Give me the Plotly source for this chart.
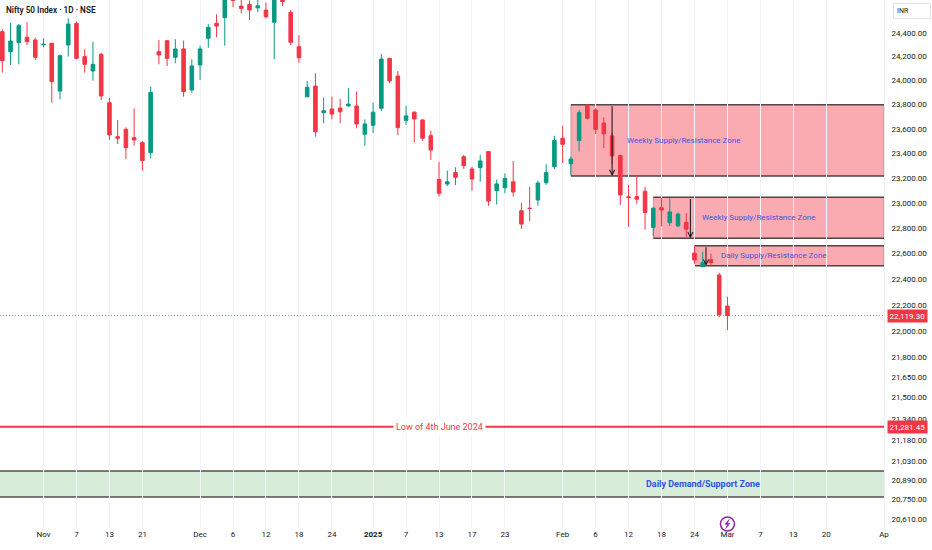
import numpy as np
import pandas as pd
import plotly.graph_objects as go

# NSE trading calendar (holidays removed, Saturday budget session added)
holidays = ["2024-11-15", "2024-11-20", "2024-12-25", "2025-02-26", "2025-03-14", "2025-03-31"]
extra_days = ["2025-02-01"]

# daily OHLC from 25 Oct 2024 to 3 Mar 2025
opens = [24411, 24242, 24318, 24364, 24341,  # Oct
         24300, 24313, 23913, 24298, 24482, 24200, 24080, 24220, 23816, 23537,
         23597, 23529, 23488, 23406, 24242, 24335, 24195, 24265, 23922,  # Nov
         24130, 24355, 24482, 24530, 24729, 24629, 24643, 24614, 24595, 24491,
         24754, 24575, 24284, 23865, 23954, 23734, 23764, 23772, 23790, 23789, 23557,  # Dec
         23630, 23770, 24186, 24038, 23670, 23738, 23674, 23545, 23190, 23153, 23245,
         23374, 23274, 23285, 23415, 23100, 23123, 23171, 22939, 22960, 23025, 23164, 23293,  # Jan
         23524, 23317, 23505, 23796, 23756, 23649, 23543, 23383, 23050, 23052, 23095,
         22807, 22963, 22844, 22818, 22847, 22605, 22497, 22553, 22433,  # Feb
         22192]
highs = [24431, 24487, 24476, 24491, 24360,
         24355, 24316, 24220, 24525, 24496, 24262, 24326, 24233, 23857, 23674,
         23614, 23770, 23502, 23949, 24341, 24340, 24347, 24335, 24178,
         24293, 24474, 24559, 24857, 24751, 24705, 24677, 24691, 24657, 24792,
         24782, 24595, 24383, 23997, 24061, 23860, 23867, 23847, 23937, 23908, 23679,
         23816, 24222, 24190, 24080, 23790, 23745, 23680, 23587, 23331, 23261, 23288,
         23388, 23293, 23388, 23420, 23188, 23239, 23339, 23002, 23131, 23180, 23313, 23544,
         23626, 23374, 23756, 23805, 23770, 23694, 23568, 23391, 23145, 23226, 23131,
         22965, 23039, 23039, 22925, 22920, 22665, 22616, 22600, 22450,
         22264]
lows = [24066, 24130, 24136, 24298, 24172,
        24279, 23816, 23844, 24200, 24178, 24066, 23999, 23839, 23510, 23477,
        23353, 23464, 23261, 23361, 24136, 24122, 24145, 23866, 23899,
        24005, 24275, 24364, 24293, 24620, 24567, 24510, 24576, 24525, 24178,
        24630, 24298, 24149, 23865, 23537, 23647, 23679, 23647, 23782, 23605, 23462,
        23567, 23748, 23978, 23551, 23634, 23492, 23505, 23348, 23052, 23137, 23145,
        23274, 23100, 23171, 22979, 22989, 23079, 23052, 22795, 22856, 22979, 23145, 23274,
        23323, 23226, 23415, 23679, 23557, 23443, 23316, 22986, 22812, 22994, 22789,
        22740, 22814, 22818, 22812, 22726, 22520, 22497, 22497, 22105,
        22008]
closes = [24166, 24332, 24462, 24326, 24195,
          24304, 23991, 24208, 24476, 24186, 24136, 24136, 23872, 23551, 23524,
          23447, 23510, 23342, 23902, 24214, 24186, 24265, 23908, 24122,
          24265, 24448, 24459, 24708, 24677, 24609, 24595, 24631, 24538, 24768,
          24668, 24321, 24191, 23944, 23577, 23750, 23722, 23741, 23805, 23641, 23641,
          23738, 24180, 23997, 23611, 23707, 23682, 23524, 23428, 23079, 23171, 23208,
          23301, 23193, 23339, 23016, 23154, 23198, 23089, 22833, 22957, 23161, 23245, 23505,
          23475, 23355, 23734, 23688, 23597, 23560, 23381, 23065, 23045, 23031, 22925,
          22960, 22945, 22930, 22913, 22793, 22550, 22528, 22530, 22125,
          22119.30]

tick_dates = ["2024-11-01", "2024-11-07", "2024-11-13", "2024-11-21", "2024-12-02", "2024-12-06",
              "2024-12-12", "2024-12-18", "2024-12-24", "2025-01-01", "2025-01-07", "2025-01-13",
              "2025-01-17", "2025-01-23", "2025-02-01", "2025-02-06", "2025-02-12", "2025-02-18",
              "2025-02-24", "2025-03-03", "2025-03-07", "2025-03-13", "2025-03-20", "2025-04-01"]
tick_text = ["Nov", "7", "13", "21", "Dec", "6", "12", "18", "24", "<b>2025</b>", "7", "13",
             "17", "23", "Feb", "6", "12", "18", "24", "Mar", "7", "13", "20", "Ap"]

price_ticks = [24400, 24200, 24000, 23800, 23600, 23400, 23200, 23000, 22800, 22600, 22400,
               22200, 22000, 21800, 21650, 21500, 21340, 21180, 21030, 20890, 20750, 20610]

last_price = 22119.30
june_low = 21281.45

zone_names = ["Weekly Supply/Resistance Zone", "Weekly Supply/Resistance Zone",
              "Daily Supply/Resistance Zone"]
zone_starts = ["2025-02-03", "2025-02-17", "2025-02-24"]
zone_tops = [23800, 23046, 22662]
zone_bottoms = [23218, 22721, 22505]
demand_top = 20956
demand_bottom = 20768

GREEN = "#089981"
RED = "#f23645"
TXT = "#131722"
PURPLE = "#8e24aa"

days = pd.bdate_range("2024-10-25", "2025-04-01")
days = days.drop(pd.to_datetime(holidays)).union(pd.to_datetime(extra_days))
idx = {d.strftime("%Y-%m-%d"): i for i, d in enumerate(days)}
x = list(range(len(opens)))

fig = go.Figure()
fig.add_trace(go.Candlestick(
    x=x, open=opens, high=highs, low=lows, close=closes,
    increasing=dict(line=dict(color=GREEN, width=1), fillcolor=GREEN),
    decreasing=dict(line=dict(color=RED, width=1), fillcolor=RED),
    hoverinfo="skip", whiskerwidth=0))

x_end = 107.0
border = "rgba(70,60,60,0.9)"

# supply zones
for start, top, bot in zip(zone_starts, zone_tops, zone_bottoms):
    x0 = idx[start]
    fig.add_shape(type="rect", x0=x0, x1=x_end, y0=bot, y1=top,
                  fillcolor="rgba(242,54,69,0.42)", line=dict(width=0.6, color="rgba(120,60,60,0.6)"),
                  layer="below")
    for yy in (top, bot):
        fig.add_shape(type="line", x0=x0, x1=x_end, y0=yy, y1=yy,
                      line=dict(color=border, width=1.5), layer="below")

label_x = [75.6, 84.7, 87.0]
for name, lx, top, bot in zip(zone_names, label_x, zone_tops, zone_bottoms):
    fig.add_annotation(x=lx, y=np.log10(np.sqrt(top * bot)), text=name, showarrow=False,
                       xanchor="left", font=dict(family="Roboto", size=8, color="#4155dd"))

# arrows inside zones
arrow_x = [idx["2025-02-10"], idx["2025-02-21"] + 0.5, idx["2025-02-25"] + 0.4]
for ax_, top, bot in zip(arrow_x, zone_tops, zone_bottoms):
    fig.add_annotation(x=ax_, y=np.log10(bot), ax=ax_, ay=np.log10(top), axref="x", ayref="y",
                       text="", showarrow=True, arrowhead=5, arrowsize=1, arrowwidth=1,
                       arrowcolor="#111111")

# demand zone
fig.add_shape(type="rect", xref="paper", x0=0, x1=1, y0=demand_bottom, y1=demand_top,
              fillcolor="rgba(76,175,80,0.22)", line_width=0, layer="below")
for yy in (demand_top, demand_bottom):
    fig.add_shape(type="line", xref="paper", x0=0, x1=1, y0=yy, y1=yy,
                  line=dict(color=border, width=1.5), layer="below")
fig.add_annotation(x=85.0, y=np.log10(np.sqrt(demand_top * demand_bottom)),
                   text="<b>Daily Demand/Support Zone</b>", showarrow=False,
                   font=dict(family="Roboto", size=9, color="#2f52e0"))

# june low line
fig.add_shape(type="line", xref="paper", x0=0, x1=1, y0=june_low, y1=june_low,
              line=dict(color=RED, width=2))
fig.add_annotation(xref="paper", x=0.4977, y=np.log10(june_low), text="Low of 4th June 2024",
                   showarrow=False, bgcolor="white", borderpad=2,
                   font=dict(family="Roboto", size=9, color=RED))

# last price line
fig.add_shape(type="line", xref="paper", x0=0, x1=1, y0=last_price, y1=last_price,
              line=dict(color="rgba(242,54,69,0.75)", width=1, dash="1px,2px"))

for v in (last_price, june_low):
    fig.add_annotation(xref="paper", x=1, xshift=3, y=np.log10(v), text=f"{v:,.2f}",
                       showarrow=False, xanchor="left", bgcolor=RED, borderpad=1.5,
                       font=dict(family="Roboto", size=8, color="white"))

# title and currency box
fig.add_annotation(xref="paper", yref="paper", x=0, y=1, xshift=4, yshift=-10,
                   xanchor="left", yanchor="middle", showarrow=False,
                   text="Nifty 50 Index · 1D · NSE",
                   font=dict(family="Roboto", size=8.2, color=TXT, weight=600))
fig.add_annotation(xref="paper", yref="paper", x=1, y=1, xshift=9, yshift=-11,
                   xanchor="left", yanchor="middle", showarrow=False, text="INR",
                   width=30, align="left", bordercolor="#e0e3eb", borderwidth=1, borderpad=3,
                   font=dict(family="Roboto", size=7, color=TXT))

# event marker (circle with lightning bolt)
ev_x = idx["2025-03-03"]
ev_y = 0.0076
fig.add_shape(type="circle", xsizemode="pixel", ysizemode="pixel", xanchor=ev_x,
              yref="paper", yanchor=ev_y, x0=-7, x1=7, y0=-7, y1=7,
              line=dict(color=PURPLE, width=1.5), fillcolor="white")
fig.add_shape(type="path", xsizemode="pixel", ysizemode="pixel", xanchor=ev_x,
              yref="paper", yanchor=ev_y,
              path="M 1.6,4.5 L -2.2,-0.3 L 0.3,-0.3 L -1.6,-4.5 L 2.2,0.6 L -0.3,0.6 Z",
              line=dict(color=PURPLE, width=0.8), fillcolor=PURPLE)

fig.update_layout(
    width=932, height=550,
    margin=dict(l=0, r=48, t=0, b=22),
    paper_bgcolor="white", plot_bgcolor="white",
    showlegend=False, boxgap=0.38,
    font=dict(family="Roboto", size=8, color=TXT),
    xaxis=dict(range=[-0.28, x_end], tickvals=[idx[d] for d in tick_dates], ticktext=tick_text,
               showgrid=True, gridcolor="#f0f3fa", gridwidth=1, zeroline=False,
               rangeslider=dict(visible=False), ticks="", tickfont=dict(size=8, color=TXT),
               fixedrange=True),
    yaxis=dict(type="log", side="right", range=[np.log10(20546), np.log10(24681)],
               tickvals=price_ticks, ticktext=[f"{v:,.2f}" for v in price_ticks],
               showgrid=False, zeroline=False, ticks="", showline=True, linecolor="#eceef2",
               tickfont=dict(size=8, color=TXT), ticklabelstandoff=5, fixedrange=True),
)

fig.write_html("out.html", config={"displayModeBar": False},
               post_script="document.body.style.margin='0';")
